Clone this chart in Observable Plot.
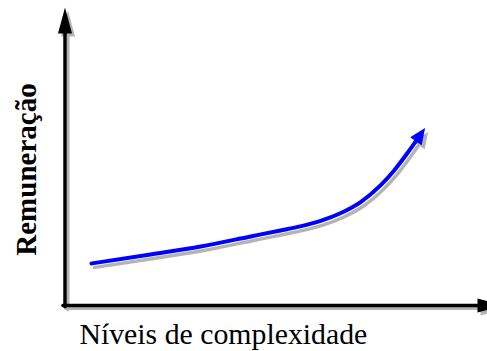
<!DOCTYPE html>
<html>
<head>
<meta charset="utf-8">
<script src="https://cdn.jsdelivr.net/npm/d3@7"></script>
<script src="https://cdn.jsdelivr.net/npm/@observablehq/plot@0.6"></script>
<style>
  html, body { margin: 0; padding: 0; background: #fff; }
  #chart svg { display: block; }
</style>
</head>
<body>
<div id="chart"></div>
<script>
// ---- data ----
const curveX = [6.4, 20.7, 32.8, 44.9, 52.1, 56.9, 61.8, 66.6, 71.5, 76.3, 79.4, 82.6, 85.0];
const curveY = [15.4, 18.7, 21.6, 25.3, 27.5, 29.0, 31.0, 33.8, 37.9, 44.0, 49.1, 55.4, 60.5];
const xAxisLineX = [-0.5, 100];
const xAxisLineY = [0, 0];
const yAxisLineX = [0, 0];
const yAxisLineY = [-0.5, 100];
const xLabel = ["Níveis de complexidade"];
const yLabel = ["Remuneração"];

const curve = curveX.map((x, i) => ({x, y: curveY[i]}));
const xAxisLine = xAxisLineX.map((x, i) => ({x, y: xAxisLineY[i]}));
const yAxisLine = yAxisLineX.map((x, i) => ({x, y: yAxisLineY[i]}));

// filled triangle marker, drawn in user space (pixels)
function filledArrow(back, tip, half) {
  return (color) => d3.create("svg:marker")
    .attr("viewBox", "-40 -20 80 40")
    .attr("markerWidth", 80)
    .attr("markerHeight", 40)
    .attr("markerUnits", "userSpaceOnUse")
    .attr("refX", 0).attr("refY", 0)
    .attr("orient", "auto")
    .attr("overflow", "visible")
    .call(m => m.append("path")
      .attr("d", `M${-back},${-half}L${tip},0L${-back},${half}Z`)
      .attr("fill", color)
      .attr("stroke", "none"))
    .node();
}

const shadow = "#b4b4b4";
const serif = "'Liberation Serif', 'Times New Roman', Times, serif";

const chart = Plot.plot({
  width: 487,
  height: 351,
  margin: 0,
  x: {domain: [0, 100], range: [64.5, 478], axis: null},
  y: {domain: [0, 100], range: [305, 32], axis: null},
  style: {background: "#fff", fontFamily: serif, overflow: "visible"},
  marks: [
    // shadows
    Plot.line(yAxisLine, {x: "x", y: "y", stroke: shadow, strokeWidth: 3, dx: 3, dy: 3, markerEnd: filledArrow(1, 25, 7)}),
    Plot.line(xAxisLine, {x: "x", y: "y", stroke: shadow, strokeWidth: 3, dx: 3, dy: 3, markerEnd: filledArrow(1, 25, 7)}),
    Plot.line(curve, {x: "x", y: "y", curve: "monotone-x", stroke: shadow, strokeWidth: 3.5, dx: 3, dy: 4, markerEnd: filledArrow(1, 15, 7)}),
    // axes
    Plot.line(yAxisLine, {x: "x", y: "y", stroke: "#000", strokeWidth: 3.5, markerEnd: filledArrow(1, 25, 7)}),
    Plot.line(xAxisLine, {x: "x", y: "y", stroke: "#000", strokeWidth: 3.5, markerEnd: filledArrow(1, 25, 7)}),
    // curve
    Plot.line(curve, {x: "x", y: "y", curve: "monotone-x", stroke: "#0000ff", strokeWidth: 4, markerEnd: filledArrow(1, 15, 7)}),
    // labels
    Plot.text(xLabel, {x: 38.3, y: -14.2, text: d => d, textAnchor: "middle", lineAnchor: "bottom", fontSize: 29.8, fontFamily: serif, fill: "#000"}),
    Plot.text(yLabel, {x: -9.3, y: 49.8, text: d => d, rotate: -90, textAnchor: "middle", lineAnchor: "middle", fontSize: 29, fontWeight: "bold", fontFamily: serif, fill: "#000"})
  ]
});
document.getElementById("chart").appendChild(chart);
</script>
</body>
</html>
